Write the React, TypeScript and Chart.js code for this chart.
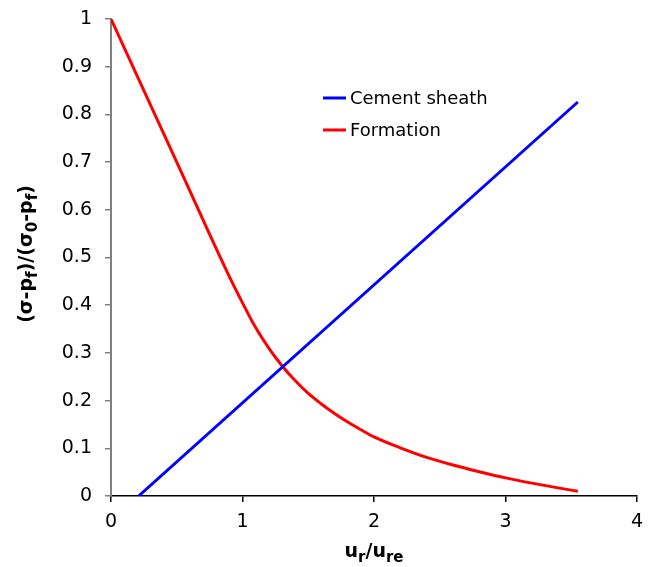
import React, { useEffect, useRef } from "react";
import { Chart, registerables } from "chart.js";

Chart.register(...registerables);

const seriesNames = ["Cement sheath", "Formation"];
const cementX = [0.21, 3.55];
const cementY = [0, 0.826];
const formationX = [0, 0.5, 0.9, 1.0, 1.1, 1.2, 1.3, 1.4, 1.5, 1.6, 1.7, 1.8, 1.9, 2.0, 2.2, 2.4, 2.6, 2.8, 3.0, 3.2, 3.4, 3.55];
const formationY = [1, 0.7, 0.46, 0.405, 0.353, 0.31, 0.273, 0.242, 0.215, 0.193, 0.173, 0.155, 0.139, 0.124, 0.101, 0.081, 0.065, 0.051, 0.038, 0.027, 0.017, 0.01];
const xTicks = [0, 1, 2, 3, 4];
const yTicks = [0, 0.1, 0.2, 0.3, 0.4, 0.5, 0.6, 0.7, 0.8, 0.9, 1];

const FONT = "'DejaVu Sans', Verdana, sans-serif";

function drawSubText(ctx: CanvasRenderingContext2D, parts: [string, boolean][], size: number, subSize: number) {
  let w = 0;
  for (const [t, sub] of parts) {
    ctx.font = `bold ${sub ? subSize : size}px ${FONT}`;
    w += ctx.measureText(t).width;
  }
  let x = -w / 2;
  for (const [t, sub] of parts) {
    ctx.font = `bold ${sub ? subSize : size}px ${FONT}`;
    ctx.fillText(t, x, sub ? size * 0.25 : 0);
    x += ctx.measureText(t).width;
  }
}

const titlesPlugin = {
  id: "titlesPlugin",
  afterDraw(chart: any) {
    const ctx = chart.ctx as CanvasRenderingContext2D;
    ctx.save();
    ctx.fillStyle = "#000";
    ctx.textBaseline = "alphabetic";
    ctx.textAlign = "left";
    // x title
    ctx.save();
    ctx.translate(374, 557);
    drawSubText(ctx, [["u", false], ["r", true], ["/", false], ["u", false], ["re", true]], 19, 15);
    ctx.restore();
    // y title
    ctx.save();
    ctx.translate(32, 254);
    ctx.rotate(-Math.PI / 2);
    drawSubText(ctx, [["(σ-p", false], ["f", true], [")/(σ", false], ["0", true], ["-p", false], ["f", true], [")", false]], 19, 15);
    ctx.restore();
    // legend
    const ds = chart.data.datasets;
    const lx = chart.scales.x.getPixelForValue(1.612);
    ctx.font = `18px ${FONT}`;
    ctx.textBaseline = "middle";
    ds.forEach((d: any, i: number) => {
      const y = 98 + i * 32;
      ctx.strokeStyle = d.borderColor;
      ctx.lineWidth = 3;
      ctx.beginPath();
      ctx.moveTo(lx, y);
      ctx.lineTo(lx + 23, y);
      ctx.stroke();
      ctx.fillStyle = "#000";
      ctx.fillText(d.label, lx + 27, y + 1);
    });
    ctx.restore();
  },
};

export default function App() {
  const ref = useRef<HTMLCanvasElement>(null);
  useEffect(() => {
    if (!ref.current) return;
    const chart = new Chart(ref.current, {
      type: "scatter",
      data: {
        datasets: [
          {
            label: seriesNames[0],
            data: cementX.map((x, i) => ({ x, y: cementY[i] })),
            showLine: true,
            borderColor: "#0000FF",
            backgroundColor: "#0000FF",
            borderWidth: 3,
            pointRadius: 0,
          },
          {
            label: seriesNames[1],
            data: formationX.map((x, i) => ({ x, y: formationY[i] })),
            showLine: true,
            borderColor: "#FF0000",
            backgroundColor: "#FF0000",
            borderWidth: 3,
            pointRadius: 0,
            cubicInterpolationMode: "monotone",
          },
        ],
      },
      options: {
        responsive: false,
        animation: false,
        layout: { padding: { left: 0, right: 17, top: 19, bottom: 0 } },
        plugins: { legend: { display: false }, tooltip: { enabled: false } },
        scales: {
          x: {
            type: "linear",
            min: 0,
            max: 4,
            afterBuildTicks: (s: any) => {
              s.ticks = xTicks.map((v) => ({ value: v }));
            },
            afterFit: (s: any) => {
              s.height = 71;
            },
            border: { color: "#000", width: 1.5 },
            grid: { display: true, drawOnChartArea: false, drawTicks: true, tickLength: 6, color: "#000", lineWidth: 1.5 },
            ticks: { color: "#000", font: { family: FONT, size: 19 }, padding: 9 },
          },
          y: {
            type: "linear",
            min: 0,
            max: 1,
            afterBuildTicks: (s: any) => {
              s.ticks = yTicks.map((v) => ({ value: v }));
            },
            afterFit: (s: any) => {
              s.width = 111;
              s.paddingTop = 0;
              s.paddingBottom = 0;
            },
            border: { color: "#808080", width: 2 },
            grid: { display: true, drawOnChartArea: false, drawTicks: true, tickLength: 6, color: "#808080", lineWidth: 1.5 },
            ticks: {
              color: "#000",
              font: { family: FONT, size: 19 },
              padding: 13,
              callback: (v: any) => String(Number(Number(v).toFixed(2))),
            },
          },
        },
      } as any,
      plugins: [titlesPlugin],
    });
    return () => chart.destroy();
  }, []);
  return (
    <div style={{ position: "absolute", left: 0, top: 0, width: 654, height: 567, background: "#fff" }}>
      <canvas ref={ref} width={654} height={567} style={{ display: "block" }} />
    </div>
  );
}
